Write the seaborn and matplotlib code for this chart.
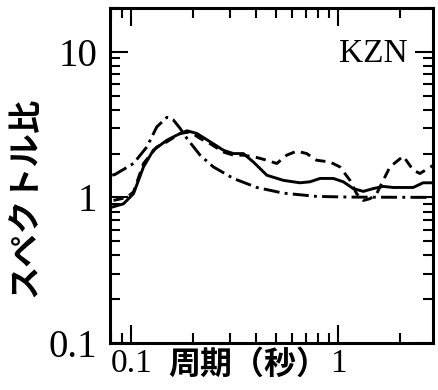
import pandas as pd
import matplotlib
matplotlib.use("Agg")
import matplotlib.pyplot as plt
import matplotlib.ticker as mticker
import seaborn as sns

# data (period in s, spectral ratio)
solid_x = [0.0807, 0.0918, 0.1026, 0.1147, 0.128, 0.1488, 0.1663, 0.186, 0.2077, 0.241,
           0.279, 0.312, 0.3487, 0.390, 0.453, 0.544, 0.655, 0.732, 0.819, 0.949,
           1.061, 1.185, 1.325, 1.481, 1.655, 1.85, 2.31, 2.58, 2.887]
solid_y = [0.857, 0.904, 1.06, 1.62, 2.11, 2.47, 2.68, 2.87, 2.75, 2.41,
           2.11, 2.0, 2.0, 1.75, 1.42, 1.31, 1.26, 1.28, 1.35, 1.35,
           1.28, 1.15, 1.10, 1.15, 1.19, 1.17, 1.17, 1.26, 1.26]

dashed_x = [0.0821, 0.0953, 0.1026, 0.1147, 0.133, 0.1488, 0.1725, 0.193, 0.2154, 0.241,
            0.279, 0.312, 0.3487, 0.405, 0.453, 0.506, 0.565, 0.632, 0.706, 0.789,
            0.915, 1.022, 1.143, 1.231, 1.325, 1.428, 1.538, 1.655, 1.783, 2.068,
            2.31, 2.49, 2.887]
dashed_y = [0.953, 1.0, 1.09, 1.71, 2.22, 2.41, 2.75, 2.82, 2.54, 2.34,
            2.05, 1.95, 1.95, 1.88, 1.80, 1.71, 1.95, 2.08, 2.0, 1.80,
            1.75, 1.62, 1.31, 1.06, 0.953, 0.98, 1.06, 1.31, 1.62, 1.92,
            1.54, 1.46, 1.66]

dashdot_x = [0.081, 0.0837, 0.1026, 0.119, 0.133, 0.1488, 0.160, 0.1725, 0.186, 0.2154,
             0.2497, 0.312, 0.405, 0.544, 0.789, 1.143, 2.887]
dashdot_y = [1.42, 1.44, 1.71, 2.22, 3.05, 3.55, 3.40, 2.98, 2.54, 1.95,
             1.62, 1.35, 1.17, 1.07, 1.016, 1.005, 1.0]

x_ticks = [0.1, 1]
x_ticklabels = ["0.1", "1"]
y_ticks = [0.1, 1, 10]
y_ticklabels = ["0.1", "1", "10"]

df = pd.concat([
    pd.DataFrame({"T": solid_x, "R": solid_y, "s": "solid"}),
    pd.DataFrame({"T": dashed_x, "R": dashed_y, "s": "dashed"}),
    pd.DataFrame({"T": dashdot_x, "R": dashdot_y, "s": "dashdot"}),
], ignore_index=True)

sns.set_style("ticks")
plt.rcParams['font.family'] = ['Liberation Serif', 'Noto Sans CJK JP']
plt.rcParams['text.color'] = 'black'
plt.rcParams['axes.labelcolor'] = 'black'
plt.rcParams['xtick.color'] = 'black'
plt.rcParams['ytick.color'] = 'black'

fig = plt.figure(figsize=(4.38, 3.9), dpi=100)
ax = fig.add_axes([110 / 438, 47 / 390, 323 / 438, 335 / 390])

sns.lineplot(data=df, x="T", y="R", style="s", units="s", estimator=None, sort=False,
             dashes={"solid": "", "dashed": (3.5, 2.2), "dashdot": (5.5, 1.8, 1, 1.8)},
             color="black", linewidth=2.1, legend=False, ax=ax)

ax.set_xscale("log")
ax.set_yscale("log")
ax.set_xlim(0.079, 2.88)
ax.set_ylim(0.1, 20)

ax.xaxis.set_major_locator(mticker.FixedLocator(x_ticks))
ax.xaxis.set_major_formatter(mticker.FixedFormatter(x_ticklabels))
ax.yaxis.set_major_locator(mticker.FixedLocator(y_ticks))
ax.yaxis.set_major_formatter(mticker.FixedFormatter(y_ticklabels))
for axis in (ax.xaxis, ax.yaxis):
    axis.set_minor_locator(mticker.LogLocator(base=10, subs=range(2, 10), numticks=20))
    axis.set_minor_formatter(mticker.NullFormatter())

ax.tick_params(which="both", direction="in", top=True, right=True, color="black",
               labelcolor="black", width=1.5)
ax.tick_params(which="major", length=13)
ax.tick_params(which="minor", length=7)
ax.tick_params(axis="x", labelsize=24, pad=4)
ax.tick_params(axis="y", labelsize=28, pad=9)
for sp in ax.spines.values():
    sp.set_linewidth(2.2)
    sp.set_color("black")

ax.set_xlabel("周期（秒）", family="Noto Sans CJK JP", fontsize=23, fontweight="bold",
              color="black")
ax.xaxis.set_label_coords(0.428, -0.066)
ax.xaxis.label.set_va("center")
ax.set_ylabel("スペクトル比", family="Noto Sans CJK JP", fontsize=24, fontweight="bold",
              color="black")
ax.yaxis.set_label_coords(-0.263, 0.436)
ax.yaxis.label.set_va("center")

ax.text(0.816, 0.863, "KZN", transform=ax.transAxes, ha="center", va="center",
        family="Liberation Serif", fontsize=24, color="black")

fig.savefig("out.png", dpi=100)
